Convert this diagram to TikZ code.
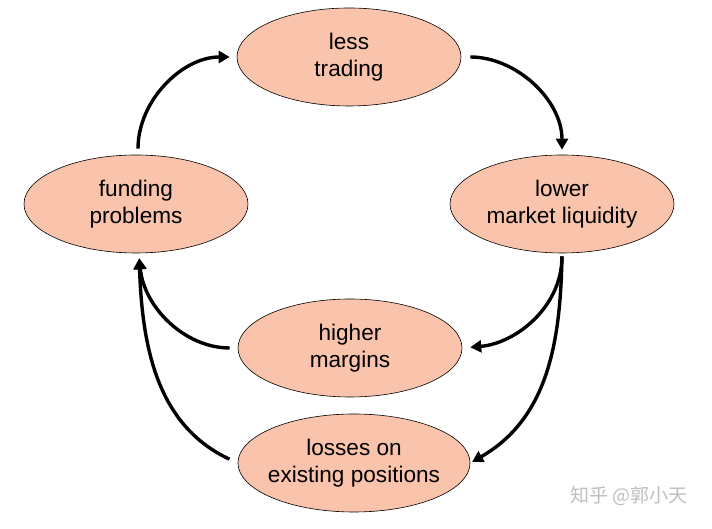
\documentclass[tikz,border=0pt]{standalone}
\usepackage{fontspec}
\setmainfont{Liberation Sans}
\newfontfamily\cjk{Noto Sans CJK SC}
\usetikzlibrary{arrows.meta,shapes.geometric}
\definecolor{peach}{HTML}{F9C4AB}
\definecolor{mark}{HTML}{BEBEBE}

\begin{document}
\begin{tikzpicture}[x=1pt,y=1pt,blob/.style={ellipse,draw=black,line width=.6pt,fill=peach,minimum width=224pt,minimum height=98pt,inner sep=0pt,align=center,font=\fontsize{22.6}{27}\selectfont},arrow/.style={-{Triangle[length=11pt,width=12pt]},line width=3.4pt}]
 \useasboundingbox (0,0) rectangle (712,529);
 \node[blob] (trading) at (349,472) {less\\trading};
 \node[blob] (funding) at (136,325) {funding\\problems};
 \node[blob] (liquidity) at (562,325) {lower\\market liquidity};
 \node[blob] (margins) at (350,181) {higher\\margins};
 \node[blob,minimum width=231pt,inner xsep=-4pt] (losses) at (354,66) {losses on\\existing positions};
 % the spiral
 \draw[arrow,shorten <=6pt,shorten >=7pt] ([xshift=2pt]funding.north) to[out=90,in=180] (trading.west);
 \draw[arrow,shorten <=9pt,shorten >=5pt] (trading.east) to[out=0,in=90] (liquidity.north);
 \draw[arrow,shorten <=3pt,shorten >=8pt] (liquidity.south) to[out=-90,in=5] (margins.east);
 \draw[arrow,shorten <=3pt,shorten >=2pt] (liquidity.south) to[out=-91,in=30] (losses.east);
 \draw[arrow,shorten <=8pt,shorten >=5pt] (margins.west) to[out=180,in=-85] ([xshift=3pt]funding.south);
 \draw[arrow,shorten <=9pt,shorten >=5pt] (losses.west) to[out=155,in=-88] ([xshift=3pt]funding.south);
 \node[text=mark,font=\cjk\fontsize{19}{22}\selectfont] (zhihu) at (629,33) {知乎 @郭小天};
\end{tikzpicture}
\end{document}
